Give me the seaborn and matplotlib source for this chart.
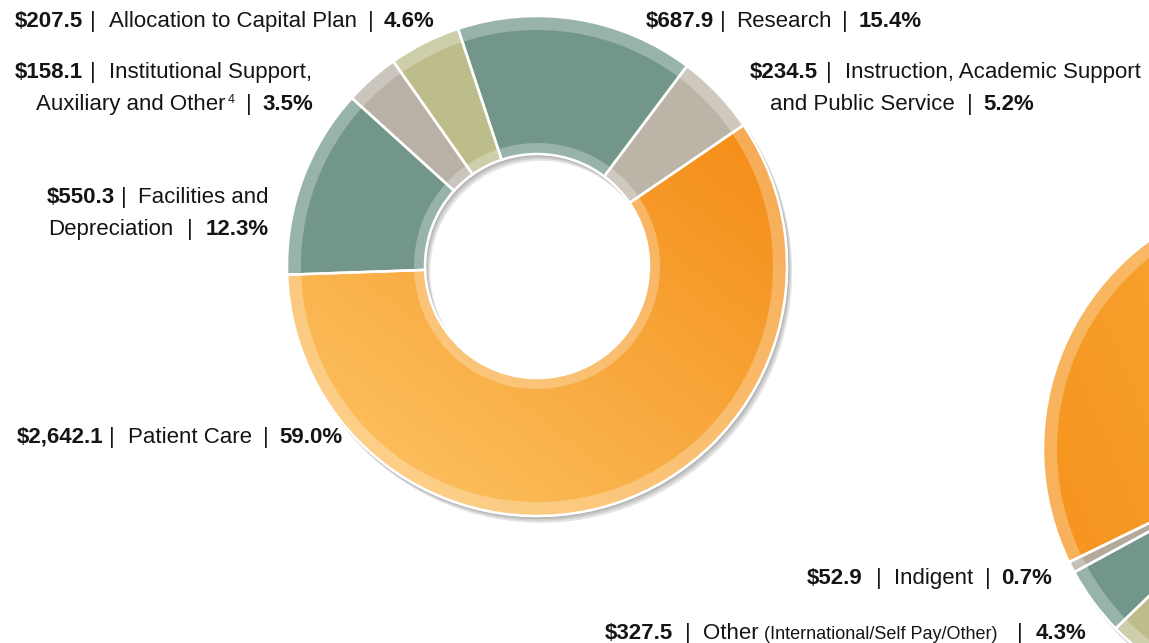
import numpy as np
import seaborn as sns
import matplotlib.pyplot as plt
import matplotlib.patheffects as pe

# 支出数据（百万美元）— 按饼图逆时针顺序
categories = ['Patient Care', 'Instruction, Academic Support and Public Service', 'Research',
              'Allocation to Capital Plan', 'Institutional Support, Auxiliary and Other',
              'Facilities and Depreciation']
amounts = [2642.1, 234.5, 687.9, 207.5, 158.1, 550.3]
slice_colors = ['#F7961F', '#BDB4A8', '#72978A', '#BDBC8B', '#B9B1A5', '#72978A']

# 右侧第二个圆环（大部分在画面外，只能看到一部分）
payer_labels = ['Orange (hidden)', 'Indigent', 'Other', 'Olive (hidden)', 'Rest (hidden)']
payer_amounts = [4100.0, 52.9, 327.5, 1400.0, 1700.0]
payer_colors = ['#F79D2B', '#B3AA9C', '#72978A', '#BDBC8B', '#72978A']

W, H = 1149, 643
sns.set_theme(style='white')
plt.rcParams['font.family'] = ['Liberation Sans', 'DejaVu Sans']

fig = plt.figure(figsize=(W / 100, H / 100), dpi=100)
ax = fig.add_axes([0, 0, 1, 1])
ax.set_xlim(0, W)
ax.set_ylim(0, H)
ax.set_aspect('equal')
ax.axis('off')


def gradient_fill(wedge, c0, c1, direction, z):
    # 用渐变图像填充扇区（以扇区本身作为裁剪路径）
    x0, y0, x1, y1 = wedge.get_path().get_extents().extents
    gx, gy = np.meshgrid(np.linspace(0, 1, 200), np.linspace(0, 1, 200))
    t = gx * direction[0] + gy * direction[1]
    t = (t - t.min()) / (t.max() - t.min())
    cmap = sns.blend_palette([c0, c1], as_cmap=True)
    im = ax.imshow(t, cmap=cmap, extent=[x0, x1, y0, y1], origin='lower',
                   interpolation='bilinear', zorder=z, aspect='auto')
    im.set_clip_path(wedge)


def donut(center, R, r, values, colors, start, grad=None):
    width = R - r
    # 阴影底环
    shadow = [pe.SimplePatchShadow(offset=(o, -1.4 * o), shadow_rgbFace='black', alpha=0.10)
              for o in (1, 2, 3)] + [pe.Normal()]
    ax.pie([1], radius=R + 1, center=center, colors=['white'], startangle=0,
           wedgeprops=dict(width=width + 2, linewidth=0, path_effects=shadow, zorder=1))
    wedges, _ = ax.pie(values, radius=R, center=center, colors=colors, startangle=start,
                       wedgeprops=dict(width=width, linewidth=0, zorder=2))
    if grad is not None:
        idx, c0, c1, d = grad
        gradient_fill(wedges[idx], c0, c1, d, 2.5)
    # 外侧与内侧的浅色边带
    ax.pie(values, radius=R, center=center, colors=['white'], startangle=start,
           wedgeprops=dict(width=14, linewidth=0, alpha=0.27, zorder=3))
    ax.pie(values, radius=r + 11, center=center, colors=['white'], startangle=start,
           wedgeprops=dict(width=11, linewidth=0, alpha=0.27, zorder=3))
    # 白色分隔线
    ax.pie(values, radius=R, center=center, startangle=start,
           wedgeprops=dict(width=width, fill=False, edgecolor='white', linewidth=1.8, zorder=4))


donut((537, H - 266), 250, 112, amounts, slice_colors, 182,
      grad=(0, '#FDC86A', '#F48B14', (1, 1)))
donut((1301, H - 449), 258, 120, payer_amounts, payer_colors, 11.3,
      grad=(0, '#F6941E', '#FAB547', (1, 0.3)))

ax.set_xlim(0, W)
ax.set_ylim(0, H)

renderer = fig.canvas.get_renderer()
FS = 16


def rich_line(x, y, parts, ha='left'):
    # parts: (文本, 粗细, 字号, 前置间距px, 垂直偏移px)
    items = []
    for s, w, fs, gap, dy in parts:
        t = ax.text(0, H - y + dy, s, fontsize=fs, fontweight=w, color='#151515',
                    ha='left', va='baseline', zorder=10)
        items.append((t, t.get_window_extent(renderer).width, gap))
    total = sum(wd + g for _, wd, g in items)
    cur = {'left': x, 'center': x - total / 2, 'right': x - total}[ha]
    for t, wd, g in items:
        cur += g
        t.set_x(cur)
        cur += wd


def B(s, gap=0):
    return (s, 'bold', FS, gap, 0)


def N(s, gap=0, fs=FS, dy=0):
    return (s, 'normal', fs, gap, dy)


rich_line(15, 27, [B('$207.5'), N('|', 7), N('Allocation to Capital Plan', 13), N('|', 11), B('4.6%', 10)])
rich_line(15, 78, [B('$158.1'), N('|', 7), N('Institutional Support,', 13)])
rich_line(313, 110, [N('Auxiliary and Other'), N('4', 2, 9, 7), N('|', 11), B('3.5%', 11)], ha='right')
rich_line(269, 203, [B('$550.3'), N('|', 6), N('Facilities and', 12)], ha='right')
rich_line(269, 235, [N('Depreciation'), N('|', 14), B('12.3%', 13)], ha='right')
rich_line(646, 27, [B('$687.9'), N('|', 6), N('Research', 10), N('|', 11), B('15.4%', 10)])
rich_line(750, 78, [B('$234.5'), N('|', 8), N('Instruction, Academic Support', 13)])
rich_line(770, 110, [N('and Public Service'), N('|', 12), B('5.2%', 11)])
rich_line(17, 443, [B('$2,642.1'), N('|', 5), N('Patient Care', 14), N('|', 11), B('59.0%', 10)])
rich_line(807, 584, [B('$52.9'), N('|', 13), N('Indigent', 12), N('|', 12), B('0.7%', 11)])
rich_line(605, 639, [B('$327.5'), N('|', 12), N('Other', 12), N('(International/Self Pay/Other)', 5, 13),
                     N('|', 20), B('4.3%', 13)])

fig.savefig('out.png', dpi=100, facecolor='white')
